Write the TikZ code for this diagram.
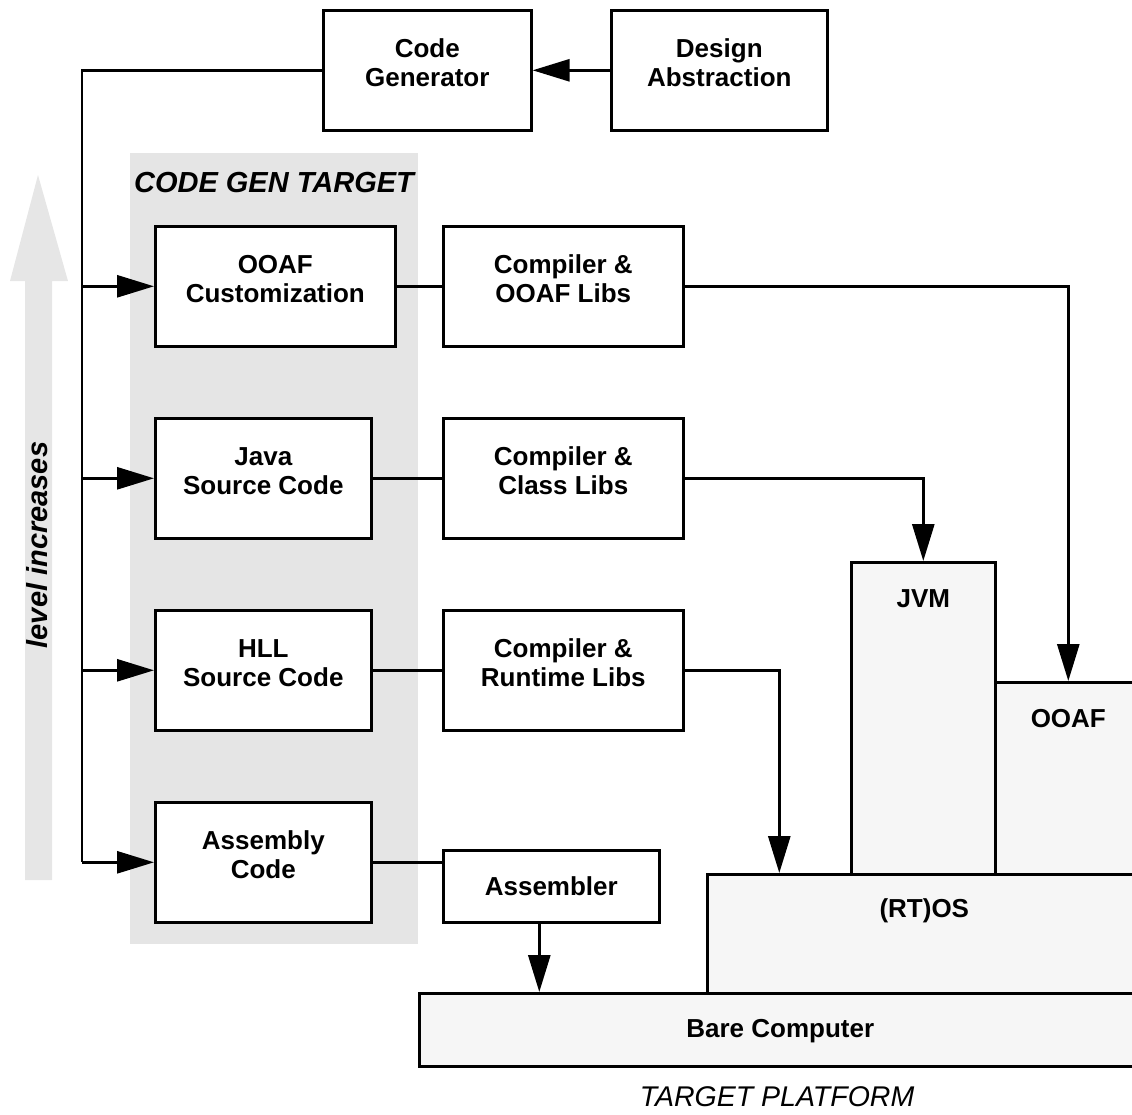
\documentclass[tikz,border=0pt]{standalone}
\usepackage{fontspec}
\setmainfont{Liberation Sans}
\usetikzlibrary{arrows.meta}
\definecolor{panelgray}{HTML}{E5E5E5}
\definecolor{platgray}{HTML}{F6F6F6}
\definecolor{lvlgray}{HTML}{E6E6E6}
\begin{document}
\begin{tikzpicture}[x=1pt,y=-1pt,
  blk/.style={draw=black, line width=2.6pt, fill=white, inner sep=0pt, align=center,
    font=\fontsize{26}{29}\selectfont\bfseries, text depth=15pt, anchor=north west},
  plat/.style={draw=black, line width=2.6pt, fill=platgray, inner sep=0pt, anchor=north west},
  lbl/.style={font=\fontsize{26}{29}\selectfont\bfseries, inner sep=0pt},
  conn/.style={line width=2.8pt},
  arr/.style={conn, -{Triangle[length=37pt,width=22pt]}}
]
\useasboundingbox (0,0) rectangle (1132,1114);
\clip (0,0) rectangle (1132,1114);

% level arrow
\fill[lvlgray] (25,880) -- (25,281) -- (10,281) -- (38,175) -- (68,281) -- (52,281) -- (52,880) -- cycle;
\node[rotate=90, font=\fontsize{29}{32}\selectfont\bfseries\itshape, inner sep=0pt] (lvl) at (37,545) {level increases};

% code gen target panel
\fill[panelgray] (130,153) rectangle (418,944);
\node[font=\fontsize{29}{32}\selectfont\bfseries\itshape, inner sep=0pt] (cgt) at (274,183) {CODE GEN TARGET};

% top boxes
\node[blk, minimum width=208, minimum height=120] (cg) at (322,9) {Code\\Generator};
\node[blk, minimum width=216, minimum height=120] (da) at (610,9) {Design\\Abstraction};

% left column
\node[blk, minimum width=240, minimum height=120] (ooafc) at (154,225) {OOAF\\Customization};
\node[blk, minimum width=216, minimum height=120] (java) at (154,417) {Java\\Source Code};
\node[blk, minimum width=216, minimum height=120] (hll) at (154,609) {HLL\\Source Code};
\node[blk, minimum width=216, minimum height=120] (asmc) at (154,801) {Assembly\\Code};

% middle column
\node[blk, minimum width=240, minimum height=120] (cool) at (442,225) {Compiler \&\\OOAF Libs};
\node[blk, minimum width=240, minimum height=120] (ccl) at (442,417) {Compiler \&\\Class Libs};
\node[blk, minimum width=240, minimum height=120] (crl) at (442,609) {Compiler \&\\Runtime Libs};
\node[blk, minimum width=216, minimum height=72, text depth=0pt] (asmr) at (442,849) {Assembler};

% platform
\node[plat, minimum width=144, minimum height=312,
  label={[lbl, anchor=center, yshift=-38pt]north:JVM}] (jvm) at (850,561) {};
\node[plat, minimum width=146, minimum height=192,
  label={[lbl, anchor=center, yshift=-38pt]north:OOAF}] (ooafp) at (994,681) {};
\node[plat, minimum width=434, minimum height=119,
  label={[lbl, anchor=center, yshift=-38pt]north:(RT)OS}] (rtos) at (706,873) {};
\node[plat, minimum width=722, minimum height=73,
  label={[lbl, anchor=center, yshift=-39pt]north:Bare Computer}] (bare) at (418,992) {};
\node[font=\fontsize{28.5}{32}\selectfont\itshape, inner sep=0pt] (tp) at (777,1097) {TARGET PLATFORM};

% connectors
\coordinate (bus) at (82,0);
\draw[arr] (da.west) -- (cg.east);
\draw[conn] (cg.west) -| (bus |- asmc.west);
\draw[arr] (bus |- ooafc.west) -- (ooafc.west);
\draw[arr] (bus |- java.west) -- (java.west);
\draw[arr] (bus |- hll.west) -- (hll.west);
\draw[arr] (bus |- asmc.west) -- (asmc.west);

\draw[conn] (ooafc.east) -- (cool.west);
\draw[conn] (java.east) -- (ccl.west);
\draw[conn] (hll.east) -- (crl.west);
\draw[conn] (asmc.east) -- (asmc.east -| asmr.west);

\draw[arr] (cool.east) -| (ooafp.north);
\draw[arr] (ccl.east) -| (jvm.north);
\coordinate (rtosin) at ([xshift=-145pt]rtos.north);
\draw[arr] (crl.east) -| (rtosin);
\coordinate (asmout) at ([xshift=-12pt]asmr.south);
\draw[arr] (asmout) -- (asmout |- bare.north);
\end{tikzpicture}
\end{document}
